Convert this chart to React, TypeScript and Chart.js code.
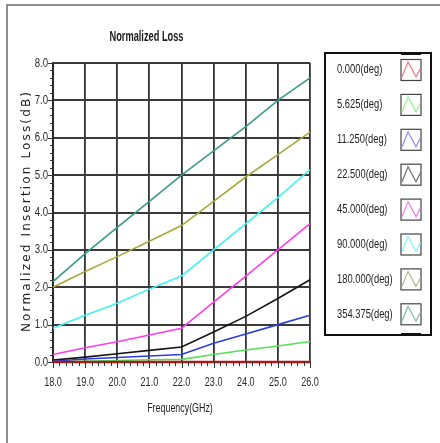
import React, { useEffect, useRef } from "react";
import { Chart, registerables } from "chart.js";

Chart.register(...registerables);

const freqs = [18, 19, 20, 21, 22, 23, 24, 25, 26];
const seriesLabels = [
  "0.000(deg)",
  "5.625(deg)",
  "11.250(deg)",
  "22.500(deg)",
  "45.000(deg)",
  "90.000(deg)",
  "180.000(deg)",
  "354.375(deg)",
];
const deg0 = [0, 0, 0, 0, 0, 0, 0, 0, 0];
const deg5 = [0.0, 0.02, 0.04, 0.06, 0.07, 0.2, 0.32, 0.43, 0.55];
const deg11 = [0.02, 0.08, 0.12, 0.16, 0.2, 0.5, 0.75, 1.0, 1.25];
const deg22 = [0.05, 0.13, 0.22, 0.31, 0.4, 0.8, 1.22, 1.7, 2.2];
const deg45 = [0.2, 0.38, 0.54, 0.72, 0.9, 1.6, 2.3, 3.0, 3.7];
const deg90 = [0.9, 1.25, 1.57, 1.95, 2.3, 3.0, 3.7, 4.4, 5.15];
const deg180 = [2.0, 2.42, 2.82, 3.23, 3.65, 4.3, 4.95, 5.55, 6.15];
const deg354 = [2.15, 2.9, 3.6, 4.3, 5.0, 5.65, 6.3, 7.0, 7.6];
const allSeries = [deg0, deg5, deg11, deg22, deg45, deg90, deg180, deg354];
const lineColors = ["#b01818", "#55e055", "#2a3ee0", "#151515", "#ff3cf0", "#3cf4f4", "#a8a83a", "#3a9a88"];
const iconColors = ["#f07a86", "#8ef08e", "#8a8af4", "#707070", "#f07ae8", "#80f4f4", "#b8b890", "#80b8a8"];
const lineWidths = [2.5, 1.6, 1.6, 1.6, 1.6, 1.6, 1.6, 1.6];

const SANS = '"Liberation Sans", Arial, sans-serif';

function narrowText(ctx: any, text: string, x: number, y: number, font: string, align: string, sx: number) {
  ctx.save();
  ctx.font = font;
  ctx.textBaseline = "middle";
  ctx.textAlign = align;
  ctx.translate(x, y);
  ctx.scale(sx, 1);
  ctx.fillText(text, 0, 0);
  ctx.restore();
}

const decorPlugin = {
  id: "decor",
  beforeDraw(chart: any) {
    const ctx = chart.ctx;
    ctx.save();
    ctx.fillStyle = "#ffffff";
    ctx.fillRect(0, 0, chart.width, chart.height);
    ctx.strokeStyle = "#6a6a6a";
    ctx.lineWidth = 1.5;
    ctx.beginPath();
    ctx.moveTo(7, 443);
    ctx.lineTo(7, 5);
    ctx.lineTo(440, 5);
    ctx.stroke();
    ctx.restore();
  },
  afterDraw(chart: any) {
    const ctx = chart.ctx;
    const xs = chart.scales.x;
    const ys = chart.scales.y;
    const area = chart.chartArea;
    ctx.save();
    // minor / major ticks
    ctx.strokeStyle = "#333";
    ctx.lineWidth = 1;
    for (let i = 0; i <= 40; i++) {
      const v = 18 + i * 0.2;
      const px = Math.round(xs.getPixelForValue(v)) + 0.5;
      const major = i % 5 === 0;
      ctx.beginPath();
      ctx.moveTo(px, area.bottom);
      ctx.lineTo(px, area.bottom + (major ? 6 : 4));
      ctx.stroke();
    }
    for (let i = 0; i <= 40; i++) {
      const v = i * 0.2;
      const py = Math.round(ys.getPixelForValue(v)) + 0.5;
      const major = i % 5 === 0;
      ctx.beginPath();
      ctx.moveTo(area.left, py);
      ctx.lineTo(area.left - (major ? 5 : 3), py);
      ctx.stroke();
    }
    ctx.fillStyle = "#2a2a2a";
    // tick labels
    xs.ticks.forEach((t: any) => {
      narrowText(ctx, Number(t.value).toFixed(1), xs.getPixelForValue(t.value), 382, "13px " + SANS, "center", 0.7);
    });
    ys.ticks.forEach((t: any) => {
      narrowText(ctx, Number(t.value).toFixed(1), area.left - 5, ys.getPixelForValue(t.value), "13px " + SANS, "right", 0.74);
    });
    // title
    ctx.fillStyle = "#1a1a1a";
    narrowText(ctx, "Normalized Loss", 146.5, 37, "bold 14px " + SANS, "center", 0.66);
    // x title
    ctx.fillStyle = "#222";
    narrowText(ctx, "Frequency(GHz)", 180, 409, "12px " + SANS, "center", 0.74);
    // y title
    const yt = "Normalized Insertion Loss(dB)";
    ctx.font = '12px "DejaVu Sans", sans-serif';
    const w = ctx.measureText(yt).width;
    const ls = (240 - w) / (yt.length - 1);
    ctx.translate(27, 212);
    ctx.rotate(-Math.PI / 2);
    (ctx as any).letterSpacing = ls + "px";
    ctx.textAlign = "left";
    ctx.textBaseline = "middle";
    ctx.fillText(yt, -120, 0);
    ctx.restore();

    // legend
    ctx.save();
    const lx = 325, ly = 53, lw = 106, lh = 282;
    ctx.strokeStyle = "#111";
    ctx.lineWidth = 2;
    ctx.strokeRect(lx, ly, lw, lh);
    ctx.lineWidth = 3;
    ctx.beginPath();
    ctx.moveTo(401, ly + 0.5);
    ctx.lineTo(421, ly + 0.5);
    ctx.moveTo(401, ly + lh - 0.5);
    ctx.lineTo(421, ly + lh - 0.5);
    ctx.stroke();
    chart.data.datasets.forEach((ds: any, i: number) => {
      const cy = 70 + i * 34.9;
      ctx.fillStyle = "#222";
      narrowText(ctx, ds.label, 337, cy, "12px " + SANS, "left", 0.78);
      ctx.strokeStyle = "#444";
      ctx.lineWidth = 1.2;
      ctx.strokeRect(401, cy - 10.5, 20, 21);
      ctx.strokeStyle = iconColors[i];
      ctx.lineWidth = 1.2;
      ctx.beginPath();
      ctx.moveTo(402, cy + 7);
      ctx.lineTo(408, cy - 8);
      ctx.lineTo(416, cy + 7);
      ctx.lineTo(420.5, cy - 2);
      ctx.stroke();
    });
    ctx.restore();
  },
};

export default function App() {
  const ref = useRef<HTMLCanvasElement | null>(null);
  useEffect(() => {
    if (!ref.current) return;
    const chart = new Chart(ref.current, {
      type: "line",
      data: {
        datasets: allSeries.map((s, i) => ({
          label: seriesLabels[i],
          data: freqs.map((f, j) => ({ x: f, y: s[j] })),
          borderColor: lineColors[i],
          backgroundColor: lineColors[i],
          borderWidth: lineWidths[i],
          pointRadius: 0,
          tension: 0,
          clip: 4,
        })),
      },
      options: {
        animation: false,
        responsive: false,
        layout: { padding: { left: 0, top: 63, right: 130, bottom: 0 } },
        plugins: { legend: { display: false }, title: { display: false }, tooltip: { enabled: false } },
        scales: {
          x: {
            type: "linear",
            min: 18,
            max: 26,
            afterFit: (s: any) => { s.height = 81; },
            ticks: { stepSize: 1, display: false, maxRotation: 0 },
            grid: { color: "#333", lineWidth: 1.8, drawTicks: false },
            border: { color: "#222", width: 1.8 },
          },
          y: {
            type: "linear",
            min: 0,
            max: 8,
            afterFit: (s: any) => { s.width = 53; },
            ticks: { stepSize: 1, display: false },
            grid: { color: "#3a3a3a", lineWidth: 2, drawTicks: false },
            border: { color: "#222", width: 1.8 },
          },
        },
      },
      plugins: [decorPlugin],
    });
    return () => chart.destroy();
  }, []);
  return (
    <div style={{ position: "absolute", left: 0, top: 0, width: 440, height: 443 }}>
      <canvas ref={ref} width={440} height={443} style={{ width: 440, height: 443, display: "block" }} />
    </div>
  );
}
